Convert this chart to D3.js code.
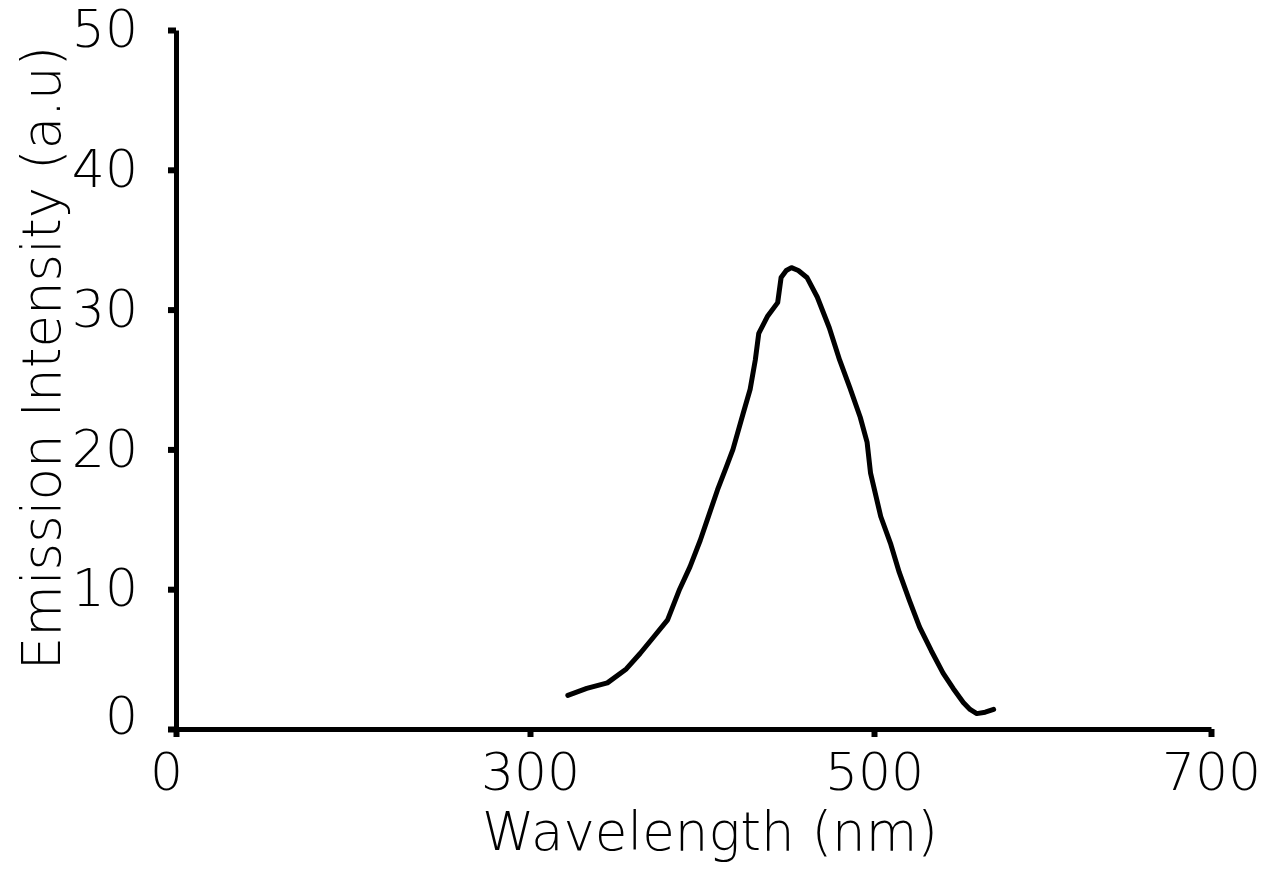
<!DOCTYPE html>
<html>
<head>
<meta charset="utf-8">
<script src="https://cdn.jsdelivr.net/npm/d3@7"></script>
<style>
  body { margin: 0; background: #fff; }
  svg { display: block; }
</style>
</head>
<body>
<svg id="chart" width="1265" height="869"></svg>
<script>
// emission spectrum
const wavelengths = [322, 333, 345, 356, 364, 372, 380, 387, 393, 399, 404, 409, 414, 418, 424, 428, 431, 433, 438, 444, 446, 449, 452, 456, 461, 467, 474, 480, 486, 492, 496, 498, 504, 510, 515, 521, 527, 534, 541, 547, 553, 557, 561, 566, 571];
const intensities = [2.4, 2.9, 3.3, 4.3, 5.4, 6.6, 7.8, 10.0, 11.6, 13.5, 15.3, 17.1, 18.7, 20.0, 22.6, 24.3, 26.4, 28.3, 29.5, 30.5, 32.3, 32.8, 33.0, 32.8, 32.3, 30.9, 28.7, 26.4, 24.4, 22.3, 20.5, 18.3, 15.2, 13.2, 11.2, 9.2, 7.3, 5.6, 4.0, 2.9, 1.9, 1.4, 1.1, 1.2, 1.4];

const xTicks = [0, 300, 500, 700];
const yTicks = [0, 10, 20, 30, 40, 50];

const svg = d3.select("#chart");
const font = "'DejaVu Sans', Verdana, sans-serif";

// the x axis is not linear: each labelled interval gets the same width
const x = d3.scaleLinear()
    .domain(xTicks)
    .range([176, 530, 874, 1211]);

const y = d3.scaleLinear()
    .domain([0, 50])
    .range([729, 30]);

// x axis
const xAxis = svg.append("g")
    .attr("transform", `translate(0,${y(0)})`)
    .call(d3.axisBottom(x).tickValues(xTicks).tickSize(8).tickSizeOuter(0).tickPadding(16));

// y axis
const yAxis = svg.append("g")
    .attr("transform", `translate(${x(0)},0)`)
    .call(d3.axisLeft(y).tickValues(yTicks).tickSize(8).tickSizeOuter(0).tickPadding(30));

[xAxis, yAxis].forEach(g => {
    g.select(".domain").attr("stroke", "#000").attr("stroke-width", 5);
    g.selectAll(".tick line").attr("stroke", "#000").attr("stroke-width", 6);
    g.selectAll(".tick text")
        .attr("fill", "#000")
        .style("font-family", font)
        .style("font-size", "52px")
        .style("font-weight", "200");
});

// the two zero labels sit a little off the corner
xAxis.selectAll(".tick text").filter(d => d === 0).attr("dx", -10);
yAxis.selectAll(".tick text").filter(d => d === 0).attr("dy", "0.08em");

// spectrum line
const line = d3.line()
    .x((d, i) => x(wavelengths[i]))
    .y(d => y(d));

svg.append("path")
    .datum(intensities)
    .attr("fill", "none")
    .attr("stroke", "#000")
    .attr("stroke-width", 5)
    .attr("stroke-linejoin", "round")
    .attr("stroke-linecap", "round")
    .attr("d", line);

// label for x axis
svg.append("text")
    .attr("text-anchor", "middle")
    .attr("x", 710)
    .attr("y", 850)
    .text("Wavelength (nm)")
    .style("font-family", font)
    .style("font-size", "53px")
    .style("font-weight", "200")
    .style("fill", "#000");

// label for y axis
svg.append("text")
    .attr("text-anchor", "middle")
    .attr("transform", "rotate(-90)")
    .attr("x", -358)
    .attr("y", 60)
    .text("Emission Intensity (a.u)")
    .style("font-family", font)
    .style("font-size", "53px")
    .style("font-weight", "200")
    .style("fill", "#000");
</script>
</body>
</html>
